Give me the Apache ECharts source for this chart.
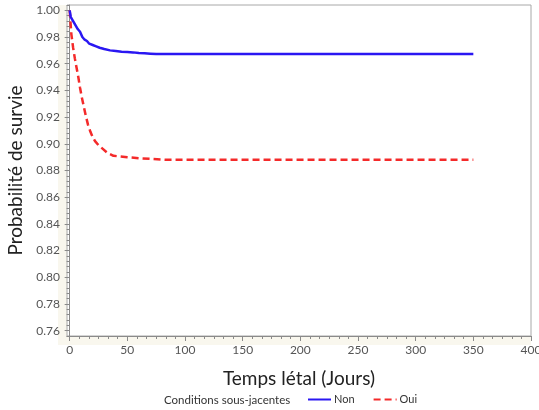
<!DOCTYPE html>
<html>
<head>
<meta charset="utf-8">
<script src="https://cdn.jsdelivr.net/npm/echarts@6/dist/echarts.min.js"></script>
<style>
  html, body { margin: 0; padding: 0; background: #fff; }
  #chart { width: 539px; height: 410px; }
</style>
</head>
<body>
<div id="chart"></div>
<script>
// Courbes de survie
const tempsNon = [0, 1, 3, 5, 7, 9, 11, 13, 15, 17, 20, 23, 26, 30, 35, 40, 45, 50, 55, 60, 65, 70, 75, 100, 200, 350]
const survieNon = [1.000, 0.995, 0.992, 0.989, 0.986, 0.984, 0.980, 0.978, 0.977, 0.975, 0.974, 0.973, 0.972, 0.971, 0.970, 0.9695, 0.969, 0.9688, 0.9685, 0.968, 0.9678, 0.9675, 0.9672, 0.9672, 0.9672, 0.9672]

const tempsOui = [0, 0.5, 1.5, 3, 4.5, 6, 7.5, 9, 10.5, 12, 14, 16, 18, 20, 22, 25, 29, 33, 38, 44, 50, 60, 70, 85, 100, 200, 350]
const survieOui = [1.000, 0.994, 0.982, 0.972, 0.964, 0.957, 0.950, 0.942, 0.935, 0.929, 0.921, 0.914, 0.909, 0.905, 0.902, 0.899, 0.896, 0.893, 0.891, 0.8905, 0.890, 0.8892, 0.8887, 0.888, 0.888, 0.888, 0.888]

const xTicks = [0, 50, 100, 150, 200, 250, 300, 350, 400]
const yTicks = [0.76, 0.78, 0.80, 0.82, 0.84, 0.86, 0.88, 0.90, 0.92, 0.94, 0.96, 0.98, 1.00]

const X_MIN = -2.3, X_MAX = 400
const Y_MIN = 0.756, Y_MAX = 1.004

// petites graduations
const xMinor = []
for (let i = 0; i <= 48; i++) xMinor.push(i * 50 / 6)
const yMinor = []
for (let i = 189; i <= 251; i++) yMinor.push(+(i * 0.004).toFixed(3))

const chart = echarts.init(document.getElementById('chart'))

const labelFont = { fontFamily: 'Lato', fontSize: 12, color: '#555' }
const axisLineStyle = { color: '#8a8a8a', width: 1 }

const option = {
  animation: false,
  textStyle: { fontFamily: 'Lato' },
  grid: {
    left: 67, right: 8, top: 5, bottom: 74,
    outerBoundsMode: 'none', containLabel: false,
    show: true, borderColor: '#a8a8a8', borderWidth: 1, backgroundColor: '#fff'
  },
  graphic: [
    { type: 'rect', z: -1, shape: { x: 58, y: 5, width: 9, height: 340 }, style: { fill: '#f9f7ee' } },
    { type: 'rect', z: -1, shape: { x: 58, y: 336, width: 473, height: 9 }, style: { fill: '#f9f7ee' } },
    {
      type: 'text', left: 164, top: 394,
      style: { text: 'Conditions sous-jacentes', font: '11.5px Lato', fill: '#333' }
    }
  ],
  legend: {
    left: 302, top: 389,
    itemWidth: 23, itemHeight: 12, itemGap: 18,
    itemStyle: { opacity: 0 },
    textStyle: { fontFamily: 'Lato', fontSize: 11, color: '#333', padding: [0, 0, 0, -2] },
    data: ['Non', 'Oui']
  },
  xAxis: [
    {
      type: 'value', min: X_MIN, max: X_MAX,
      name: 'Temps létal (Jours)', nameLocation: 'middle', nameGap: 33,
      nameTextStyle: { fontFamily: 'Lato', fontSize: 19, color: '#222' },
      axisLine: { show: true, lineStyle: axisLineStyle },
      axisTick: { show: true, length: 5, lineStyle: axisLineStyle, customValues: xTicks },
      axisLabel: { ...labelFont, margin: 8, customValues: xTicks },
      splitLine: { show: false }
    },
    {
      type: 'value', min: X_MIN, max: X_MAX, position: 'bottom',
      axisLine: { show: false },
      axisTick: { show: true, length: 3, lineStyle: axisLineStyle, customValues: xMinor },
      axisLabel: { show: false },
      splitLine: { show: false }
    }
  ],
  yAxis: [
    {
      type: 'value', min: Y_MIN, max: Y_MAX,
      name: 'Probabilité de survie', nameLocation: 'middle', nameGap: 41,
      nameTextStyle: { fontFamily: 'Lato', fontSize: 19, color: '#222' },
      axisLine: { show: true, lineStyle: axisLineStyle },
      axisTick: { show: true, length: 5, lineStyle: axisLineStyle, customValues: yTicks },
      axisLabel: { ...labelFont, margin: 7, customValues: yTicks, formatter: v => v.toFixed(2) },
      splitLine: { show: false }
    },
    {
      type: 'value', min: Y_MIN, max: Y_MAX, position: 'left',
      axisLine: { show: false },
      axisTick: { show: true, length: 3, lineStyle: axisLineStyle, customValues: yMinor },
      axisLabel: { show: false },
      splitLine: { show: false }
    }
  ],
  series: [
    {
      name: 'Non', type: 'line', symbol: 'none',
      data: tempsNon.map((t, i) => [t, survieNon[i]]),
      lineStyle: { color: '#2a17f2', width: 2.5 },
      itemStyle: { color: '#2a17f2' },
      z: 3
    },
    {
      name: 'Oui', type: 'line', symbol: 'none',
      data: tempsOui.map((t, i) => [t, survieOui[i]]),
      lineStyle: { color: '#f42a2a', width: 2.5, type: [7, 4] },
      itemStyle: { color: '#f42a2a' },
      z: 2
    }
  ]
}

chart.setOption(option)
</script>
</body>
</html>
